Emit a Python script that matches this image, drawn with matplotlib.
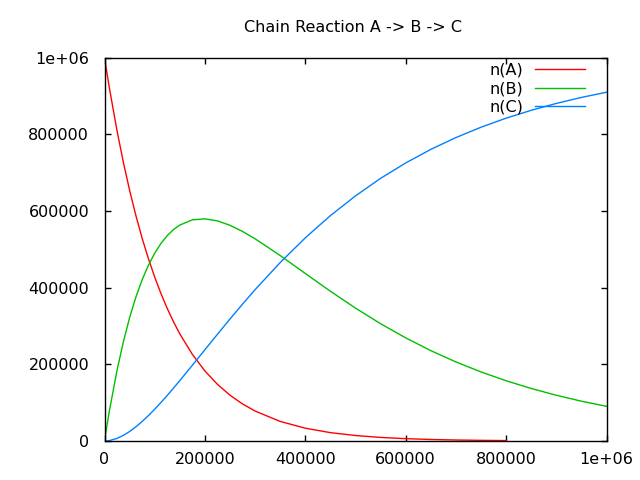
import matplotlib
matplotlib.use("Agg")
import matplotlib.pyplot as plt

# time steps
t = [0, 5000, 10000, 25000, 37500, 50000, 62500, 75000, 87500, 100000,
     112500, 125000, 137500, 150000, 175000, 200000, 225000, 250000, 275000,
     300000, 350000, 400000, 450000, 500000, 550000, 600000, 650000, 700000,
     750000, 800000, 850000, 900000, 950000, 1000000]

# n(A) stops at 800000
n_a = [1000000, 958400, 918500, 808600, 727100, 653800, 587900, 528600, 475300,
       427400, 384300, 345600, 310700, 279400, 225900, 182700, 147700, 119400,
       96600, 78100, 51000, 33400, 21800, 14300, 9300, 6100, 4000, 2600, 1700,
       1100]
n_b = [0, 41300, 80400, 184600, 258300, 321500, 375200, 420500, 458400, 489700,
       515200, 535500, 551400, 563100, 576600, 579300, 574000, 562500, 546400,
       527300, 483600, 436800, 390500, 346500, 305800, 268900, 235600, 206200,
       180100, 157100, 137000, 119300, 103800, 90400]
n_c = [0, 300, 1100, 6800, 14600, 24700, 36900, 50900, 66300, 82900, 100500,
       118900, 137900, 157500, 197500, 238000, 278300, 318100, 357000, 394600,
       465400, 529800, 587700, 639200, 684900, 725000, 760400, 791200, 818200,
       841800, 862300, 880200, 895900, 909400]

plt.rcParams["font.family"] = "DejaVu Sans"
plt.rcParams["font.size"] = 11.5

fig = plt.figure(figsize=(6.4, 4.8), dpi=100)
ax = fig.add_axes([104.5 / 640, 1 - 441 / 480, 502 / 640, 383.5 / 480])

ax.plot(t[:len(n_a)], n_a, color="#ff0000", lw=1, label="n(A)")
ax.plot(t, n_b, color="#00c000", lw=1, label="n(B)")
ax.plot(t, n_c, color="#0080ff", lw=1, label="n(C)")

ax.set_xlim(0, 1000000)
ax.set_ylim(0, 1000000)
ticks = [0, 200000, 400000, 600000, 800000, 1000000]
labels = ["0", "200000", "400000", "600000", "800000", "1e+06"]
ax.set_xticks(ticks)
ax.set_xticklabels(labels)
ax.set_yticks(ticks)
ax.set_yticklabels(labels)
ax.tick_params(direction="in", length=4.5, width=1, top=True, right=True)
ax.tick_params(axis="y", pad=11)
ax.tick_params(axis="x", pad=8)
for s in ax.spines.values():
    s.set_linewidth(1)

fig.text(353 / 640, 1 - 27 / 480, "Chain Reaction A -> B -> C",
         ha="center", va="center")

ax.legend(loc="upper right", bbox_to_anchor=(585 / 640, 1 - 62.5 / 480),
          bbox_transform=fig.transFigure, frameon=False, markerfirst=False,
          handlelength=3.1, handletextpad=0.75, labelspacing=0.23,
          borderpad=0, borderaxespad=0)

fig.savefig("out.png", dpi=100)
